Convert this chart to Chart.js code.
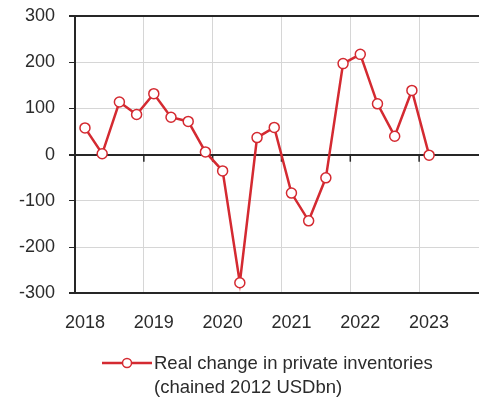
<!DOCTYPE html>
<html>
<head>
<meta charset="utf-8">
<script src="https://cdn.jsdelivr.net/npm/chart.js@4.4.1/dist/chart.umd.min.js"></script>
<style>
  html, body { margin: 0; padding: 0; background: #fff; }
  #wrap { position: relative; width: 479px; height: 404px; }
  #legend {
    position: absolute; left: 102px; top: 351px;
    font-family: 'Liberation Sans', Arial, sans-serif; font-size: 18.5px;
    line-height: 24px; color: #2b2b2b; white-space: nowrap;
  }
  #legend svg { position: absolute; left: 0; top: 6px; }
  #legend .txt { margin-left: 52px; }
</style>
</head>
<body>
<div id="wrap">
  <canvas id="chart" width="479" height="404"></canvas>
  <div id="legend"></div>
</div>
<script>
// quarterly data
const quarters = [
  '2018Q1', '2018Q2', '2018Q3', '2018Q4',
  '2019Q1', '2019Q2', '2019Q3', '2019Q4',
  '2020Q1', '2020Q2', '2020Q3', '2020Q4',
  '2021Q1', '2021Q2', '2021Q3', '2021Q4',
  '2022Q1', '2022Q2', '2022Q3', '2022Q4',
  '2023Q1'
];
const inventoryChange = [
  58, 2, 114, 87,
  132, 81, 72, 6,
  -35, -277, 37, 59,
  -83, -143, -50, 197,
  217, 110, 40, 139,
  -1
];
const yearLabels = ['2018', '2019', '2020', '2021', '2022', '2023'];
const yTicks = [-300, -200, -100, 0, 100, 200, 300];
const seriesLabel = ['Real change in private inventories', '(chained 2012 USDbn)'];

const RED = '#d42a31';
const AXIS = '#262626';
const GRID = '#d6d6d6';
const TEXT = '#2b2b2b';
const FONT = "'Liberation Sans', Arial, sans-serif";

// year label positions = index of each Q1, gridlines sit a bit before them
const yearIdx = quarters.map((q, i) => q.endsWith('Q1') ? i : -1).filter(i => i >= 0);
const GRID_SHIFT = -0.58;
const gridIdx = yearIdx.map(i => i + GRID_SHIFT);
const X_MIN = GRID_SHIFT;
const X_MAX = 22.9;

const points = inventoryChange.map((v, i) => ({x: i, y: v}));

// legend (html, two lines)
document.getElementById('legend').innerHTML =
  '<svg width="50" height="12"><line x1="0" y1="6" x2="50" y2="6" stroke="' + RED + '" stroke-width="2.5"/>' +
  '<circle cx="25" cy="6" r="4.5" fill="#fff" stroke="' + RED + '" stroke-width="1.5"/></svg>' +
  seriesLabel.map(t => '<div class="txt">' + t + '</div>').join('');

// small ticks hanging under the zero line
const zeroTicks = {
  id: 'zeroTicks',
  beforeDatasetsDraw(chart) {
    const c = chart.ctx;
    const y0 = chart.scales.y.getPixelForValue(0);
    c.save();
    c.strokeStyle = AXIS; c.lineWidth = 1.5;
    gridIdx.slice(1).forEach(v => {
      const x = chart.scales.xGrid.getPixelForValue(v);
      c.beginPath(); c.moveTo(x, y0); c.lineTo(x, y0 + 7); c.stroke();
    });
    c.restore();
  }
};

new Chart(document.getElementById('chart'), {
  type: 'line',
  data: {
    datasets: [{
      label: seriesLabel.join(' '),
      data: points,
      borderColor: RED,
      borderWidth: 2.5,
      pointRadius: 5,
      pointBorderWidth: 1.5,
      pointBackgroundColor: '#fff',
      pointBorderColor: RED,
      tension: 0,
      clip: 8
    }]
  },
  options: {
    responsive: false,
    animation: false,
    layout: { autoPadding: false, padding: { top: 16, right: 0, bottom: 51, left: 0 } },
    plugins: {
      tooltip: { enabled: false },
      legend: { display: false }
    },
    scales: {
      x: {
        type: 'linear',
        position: 'bottom',
        min: X_MIN,
        max: X_MAX,
        afterBuildTicks: s => { s.ticks = yearIdx.map(v => ({value: v})); },
        ticks: {
          autoSkip: false,
          maxRotation: 0,
          padding: 19,
          color: TEXT,
          font: { family: FONT, size: 18 },
          callback: v => yearLabels[yearIdx.indexOf(v)]
        },
        grid: { drawOnChartArea: false, drawTicks: false, color: 'transparent' },
        border: { color: AXIS, width: 2 }
      },
      xGrid: {
        type: 'linear',
        position: 'top',
        min: X_MIN,
        max: X_MAX,
        afterBuildTicks: s => { s.ticks = gridIdx.map(v => ({value: v})); },
        afterFit: s => { s.height = 0; },
        ticks: { display: false },
        grid: { color: GRID, lineWidth: 1, drawTicks: false },
        border: { color: AXIS, width: 2 }
      },
      y: {
        min: -300,
        max: 300,
        afterBuildTicks: s => { s.ticks = yTicks.map(v => ({value: v})); },
        afterFit: s => { s.width = 75; s.paddingTop = 0; s.paddingBottom = 0; },
        ticks: {
          padding: 14,
          color: TEXT,
          font: { family: FONT, size: 18 }
        },
        grid: {
          color: c => (c.tick && [0, 300, -300].includes(c.tick.value)) ? AXIS : GRID,
          lineWidth: c => (c.tick && [0, 300, -300].includes(c.tick.value)) ? 2 : 1,
          tickColor: AXIS,
          tickLength: 6
        },
        border: { color: AXIS, width: 2 }
      }
    }
  },
  plugins: [zeroTicks]
});
</script>
</body>
</html>
